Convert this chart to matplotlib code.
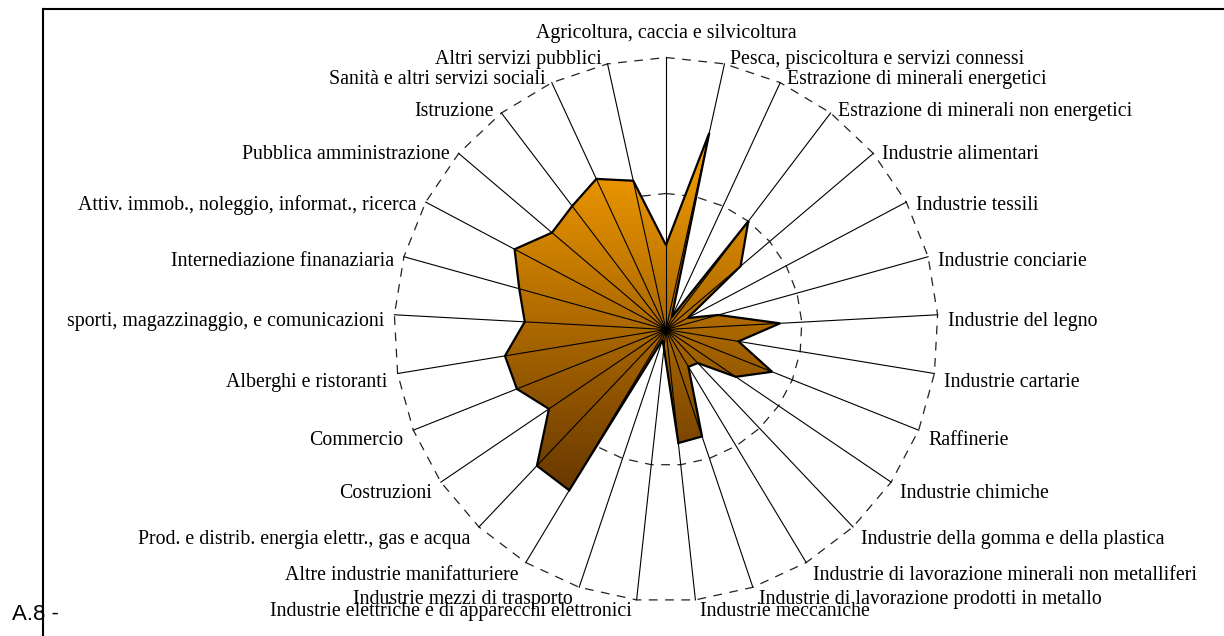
import numpy as np
import matplotlib
matplotlib.use('Agg')
import matplotlib.pyplot as plt
from matplotlib.patches import Polygon
from matplotlib.lines import Line2D

# settori in senso orario partendo dall'alto
settori = [
    "Agricoltura, caccia e silvicoltura",
    "Pesca, piscicoltura e servizi connessi",
    "Estrazione di minerali energetici",
    "Estrazione di minerali non energetici",
    "Industrie alimentari",
    "Industrie tessili",
    "Industrie conciarie",
    "Industrie del legno",
    "Industrie cartarie",
    "Raffinerie",
    "Industrie chimiche",
    "Industrie della gomma e della plastica",
    "Industrie di lavorazione minerali non metalliferi",
    "Industrie di lavorazione prodotti in metallo",
    "Industrie meccaniche",
    "Industrie elettriche e di apparecchi elettronici",
    "Industrie mezzi di trasporto",
    "Altre industrie manifatturiere",
    "Prod. e distrib. energia elettr., gas e acqua",
    "Costruzioni",
    "Commercio",
    "Alberghi e ristoranti",
    "sporti, magazzinaggio, e comunicazioni",
    "Internediazione finanaziaria",
    "Attiv. immob., noleggio, informat., ricerca",
    "Pubblica amministrazione",
    "Istruzione",
    "Sanità e altri servizi sociali",
    "Altri servizi pubblici",
]

indici = [0.62, 1.48, 0.10, 1.00, 0.72, 0.18, 0.40, 0.84, 0.54, 0.84,
          0.62, 0.34, 0.32, 0.83, 0.84, 0.14, 0.08, 1.38, 1.38, 1.04,
          1.18, 1.20, 1.04, 1.12, 1.26, 1.10, 1.14, 1.22, 1.12]

griglia = [1, 2]

W, H = 1224, 636
fig = plt.figure(figsize=(W / 100, H / 100), dpi=100)

# asse quadrato: centro (666, 329.5) px, raggio esterno 272 px
L = 2.2
px = 272 / griglia[-1] * L
cx, cy = 666, H - 329.5
ax = fig.add_axes([(cx - px) / W, (cy - px) / H, 2 * px / W, 2 * px / H])

n = len(settori)
ang = np.arange(n) * 2 * np.pi / n
s, c = np.sin(ang), np.cos(ang)
vals = np.array(indici)

# griglia tratteggiata poligonale
for g in griglia:
    ax.plot(np.append(g * s, g * s[0]), np.append(g * c, g * c[0]),
            color='#222222', lw=0.9, dashes=(7, 6), zorder=1)

# area con sfumatura verticale
xs, ys = vals * s, vals * c
poly = Polygon(np.column_stack([xs, ys]), closed=True, fc='none',
               ec='black', lw=1.6, zorder=4)
ax.add_patch(poly)
top = np.array([252, 162, 0]) / 255
bot = np.array([104, 56, 0]) / 255
t = np.linspace(0, 1, 256)[:, None]
grad = (top[None, :] * (1 - t) + bot[None, :] * t)[:, None, :]
im = ax.imshow(grad, extent=[xs.min(), xs.max(), ys.min(), ys.max()],
               aspect='auto', origin='upper', zorder=2, interpolation='bilinear')
clip = Polygon(np.column_stack([xs, ys]), closed=True, transform=ax.transData)
im.set_clip_path(clip)
ax.set_xlim(-L, L)
ax.set_ylim(-L, L)
ax.axis('off')

# raggi
R = griglia[-1]
for i in range(n):
    ax.plot([0, R * s[i]], [0, R * c[i]], color='black', lw=0.8, zorder=3)

# etichette
for i, lab in enumerate(settori):
    if s[i] > 0.01:
        ha, dx = 'left', 4 + 6 * abs(s[i])
    elif s[i] < -0.01:
        ha, dx = 'right', -4 - 6 * abs(s[i])
    else:
        ha, dx = 'center', 0
    dy = 8.5 * c[i] - 3 - 4.5 * abs(s[i])
    if ha == 'center':
        dy = 24
    ax.annotate(lab, (R * s[i], R * c[i]), xytext=(dx, dy),
                textcoords='offset pixels', ha=ha, va='center',
                fontsize=14.3, family='Liberation Serif', annotation_clip=False)

# cornice della pagina
fig.add_artist(Line2D([43 / W, 43 / W], [0, 1 - 8.5 / H], color='black',
                      lw=1.5, transform=fig.transFigure))
fig.add_artist(Line2D([43 / W, 1], [1 - 8.5 / H, 1 - 8.5 / H], color='black',
                      lw=1.5, transform=fig.transFigure))

fig.text(12 / W, 16 / H, "A.8 -", fontsize=16, family='Liberation Sans',
         ha='left', va='baseline')

fig.savefig('out.png', dpi=100, facecolor='white')
